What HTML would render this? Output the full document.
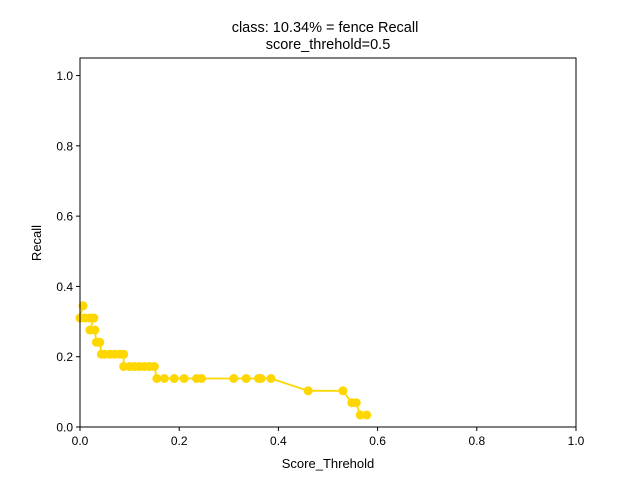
<!DOCTYPE html>
<html><head><meta charset="utf-8"><style>
body{margin:0;background:#fff;}
svg{display:block;font-family:"Liberation Sans","DejaVu Sans",sans-serif;}
</style></head><body>
<svg id="chart" width="640" height="480">
<rect width="640" height="480" fill="#fff"/>
<text x="325" y="32" font-size="14.5" text-anchor="middle">class: 10.34% = fence Recall</text>
<text x="328" y="49" font-size="14.5" text-anchor="middle">score_threhold=0.5</text>
<g id="ticks"></g>
<g id="series"></g>
<rect x="80" y="58" width="496" height="369" fill="none" stroke="#000" stroke-width="1"/>
<text x="328" y="468" font-size="13" text-anchor="middle">Score_Threhold</text>
<text transform="translate(41,243) rotate(-90)" font-size="13" text-anchor="middle">Recall</text>
</svg>
<script>
const xValues=[0.006,0.0,0.01,0.02,0.028,0.02,0.03,0.033,0.04,0.043,0.05,0.06,0.07,0.08,0.088,0.088,0.1,0.11,0.12,0.13,0.14,0.15,0.155,0.17,0.19,0.21,0.235,0.245,0.31,0.335,0.36,0.365,0.385,0.46,0.53,0.548,0.557,0.565,0.578];
const recallValues=[0.345,0.310,0.310,0.310,0.310,0.276,0.276,0.241,0.241,0.207,0.207,0.207,0.207,0.207,0.207,0.172,0.172,0.172,0.172,0.172,0.172,0.172,0.138,0.138,0.138,0.138,0.138,0.138,0.138,0.138,0.138,0.138,0.138,0.103,0.103,0.069,0.069,0.034,0.034];
const xTicks=["0.0","0.2","0.4","0.6","0.8","1.0"];
const yTicks=["0.0","0.2","0.4","0.6","0.8","1.0"];
const NS="http://www.w3.org/2000/svg";
const X0=80,X1=576,Y0=427,Y1=58,YMAX=1.05;
function sx(v){return X0+v*(X1-X0);}
function sy(v){return Y0-v/YMAX*(Y0-Y1);}
const tg=document.getElementById('ticks');
xTicks.forEach(t=>{const v=parseFloat(t),x=sx(v);
 const l=document.createElementNS(NS,'line');l.setAttribute('x1',x);l.setAttribute('x2',x);l.setAttribute('y1',Y0);l.setAttribute('y2',Y0+4);l.setAttribute('stroke','#000');
 
 tg.appendChild(l);
 const tx=document.createElementNS(NS,'text');tx.setAttribute('x',x);tx.setAttribute('y',Y0+18);tx.setAttribute('font-size','12');tx.setAttribute('text-anchor','middle');tx.textContent=t;
 
 tg.appendChild(tx);});
yTicks.forEach(t=>{const v=parseFloat(t),y=sy(v);
 const l=document.createElementNS(NS,'line');l.setAttribute('x1',X0-4);l.setAttribute('x2',X0);l.setAttribute('y1',y);l.setAttribute('y2',y);l.setAttribute('stroke','#000');
 
 tg.appendChild(l);
 const tx=document.createElementNS(NS,'text');tx.setAttribute('x',X0-7);tx.setAttribute('y',y+4.5);tx.setAttribute('font-size','12');tx.setAttribute('text-anchor','end');tx.textContent=t;
 
 tg.appendChild(tx);});
const sg=document.getElementById('series');
const pl=document.createElementNS(NS,'polyline');
pl.setAttribute('points',xValues.map((x,i)=>sx(x)+','+sy(recallValues[i])).join(' '));
pl.setAttribute('fill','none');pl.setAttribute('stroke','#ffd700');pl.setAttribute('stroke-width','1.8');


sg.appendChild(pl);
xValues.forEach((x,i)=>{const c=document.createElementNS(NS,'circle');c.setAttribute('cx',sx(x));c.setAttribute('cy',sy(recallValues[i]));c.setAttribute('r','4.5');c.setAttribute('fill','#ffd700');
 
 sg.appendChild(c);});
</script>
</body></html>
